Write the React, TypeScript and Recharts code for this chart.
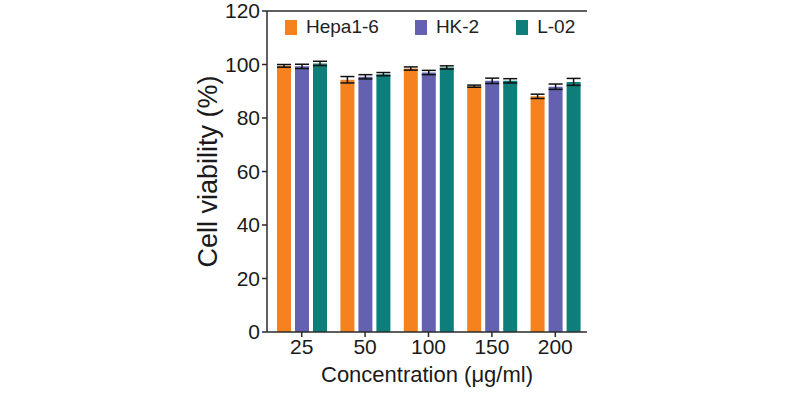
import React from "react";
import { BarChart, Bar, XAxis, YAxis, ErrorBar, ReferenceLine } from "recharts";

const concentrations = ["25", "50", "100", "150", "200"];
const hepaValues = [99.5, 94.3, 98.5, 91.9, 88.1];
const hepaErrors = [0.5, 1.2, 0.6, 0.4, 0.8];
const hkValues = [99.3, 95.4, 97.0, 93.9, 91.7];
const hkErrors = [0.8, 0.8, 0.8, 1.0, 1.0];
const l02Values = [100.4, 96.4, 98.9, 93.9, 93.5];
const l02Errors = [0.8, 0.6, 0.6, 0.8, 1.3];
const yTicks = [0, 20, 40, 60, 80, 100, 120];

const data = concentrations.map((c, i) => ({
  conc: c,
  hepa: hepaValues[i],
  hepaErr: hepaErrors[i],
  hk: hkValues[i],
  hkErr: hkErrors[i],
  l02: l02Values[i],
  l02Err: l02Errors[i],
}));

const series = [
  { key: "hepa", name: "Hepa1-6", color: "#F5821F" },
  { key: "hk", name: "HK-2", color: "#6462B0" },
  { key: "l02", name: "L-02", color: "#0E7E7A" },
];

const FONT = "'Liberation Sans', Arial, sans-serif";
const AXIS = "#2a2a2a";

// legend drawn as plain html so it doesn't eat plot height
function LegendRow() {
  return (
    <div
      style={{
        position: "absolute",
        left: 285,
        top: 17,
        display: "flex",
        fontFamily: FONT,
        fontSize: 19,
        color: "#222",
        lineHeight: "20px",
      }}
    >
      {series.map((s, i) => (
        <span
          key={s.key}
          style={{ display: "flex", alignItems: "center", marginRight: i === 0 ? 36 : 37 }}
        >
          <span style={{ width: 12, height: 15, background: s.color, marginRight: 9 }} />
          {s.name}
        </span>
      ))}
    </div>
  );
}

export default function App() {
  return (
    <div style={{ position: "absolute", left: 0, top: 0, width: 792, height: 396, background: "#fff" }}>
      <BarChart
        width={792}
        height={396}
        data={data}
        margin={{ top: 11, right: 205, left: 207, bottom: 34 }}
        barCategoryGap="11%"
        barGap={4}
      >
        <XAxis
          dataKey="conc"
          padding={{ left: 3, right: 0 }}
          tickLine={{ stroke: AXIS, strokeWidth: 1.5 }}
          axisLine={{ stroke: AXIS, strokeWidth: 1.5 }}
          tickSize={5}
          height={30}
          tick={{ fill: "#1a1a1a", fontSize: 21, fontFamily: FONT }}
          label={{
            value: "Concentration (μg/ml)",
            position: "insideBottom",
            offset: -20,
            fill: "#1a1a1a",
            fontSize: 22,
            fontFamily: FONT,
          }}
        />
        <YAxis
          yAxisId="left"
          domain={[0, 120]}
          ticks={yTicks}
          width={60}
          tickSize={5}
          interval={0}
          tickLine={{ stroke: AXIS, strokeWidth: 1.5 }}
          axisLine={{ stroke: AXIS, strokeWidth: 1.5 }}
          tick={{ fill: "#1a1a1a", fontSize: 21, fontFamily: FONT }}
          label={{
            value: "Cell viability (%)",
            angle: -90,
            position: "insideLeft",
            offset: 0,
            style: { textAnchor: "middle" },
            fill: "#1a1a1a",
            fontSize: 27,
            fontFamily: FONT,
          }}
        />
        <YAxis
          yAxisId="right"
          orientation="right"
          domain={[0, 120]}
          width={0}
          tick={false}
          tickLine={false}
          axisLine={{ stroke: AXIS, strokeWidth: 1.5 }}
        />
        <ReferenceLine yAxisId="left" y={120} stroke={AXIS} strokeWidth={1.5} />
        {series.map((s) => (
          <Bar
            key={s.key}
            yAxisId="left"
            dataKey={s.key}
            name={s.name}
            fill={s.color}
            barSize={14}
            isAnimationActive={false}
          >
            <ErrorBar dataKey={`${s.key}Err`} width={7} stroke="#111" strokeWidth={1.5} />
          </Bar>
        ))}
      </BarChart>
      <LegendRow />
    </div>
  );
}
